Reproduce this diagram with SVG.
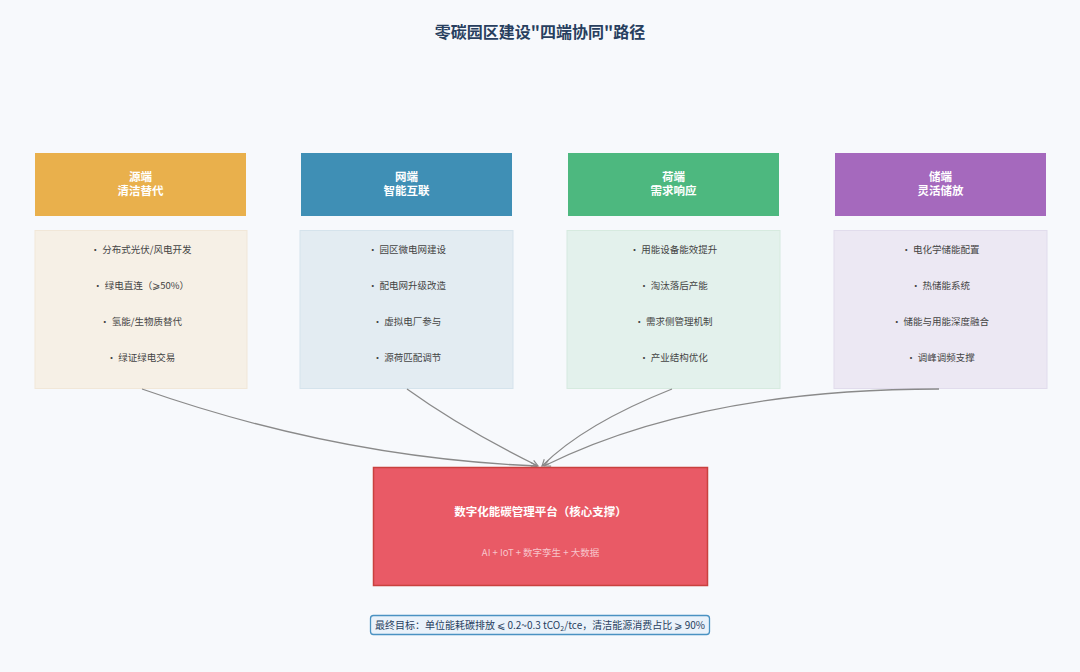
<svg xmlns="http://www.w3.org/2000/svg" width="1080" height="672" viewBox="0 0 1080 672">
<defs>
<style>
.t{font-family:"Noto Sans CJK SC","Noto Sans",sans-serif;}
.title{font-size:16px;font-weight:700;fill:#283f5f;text-anchor:middle;}
.hd{font-size:11.5px;font-weight:700;fill:#ffffff;text-anchor:middle;}
.it{font-size:9.5px;fill:#444;text-anchor:middle;}
.pt{font-size:11.5px;font-weight:700;fill:#ffffff;text-anchor:middle;}
.ps{font-size:9.5px;fill:#f7c5cb;text-anchor:middle;}
.ft{font-size:10px;fill:#283f5f;text-anchor:middle;}
.conn{fill:none;stroke:#8a8a8a;stroke-width:1.3;}
</style>
<marker id="arr" viewBox="0 0 10 10" refX="9" refY="5" markerWidth="8" markerHeight="8" orient="auto" markerUnits="userSpaceOnUse">
<path d="M1,1 L9,5 L1,9" fill="none" stroke="#8a8a8a" stroke-width="1.5"/>
</marker>
</defs>
<rect width="1080" height="672" fill="#f7f9fc"/>
<text class="t title" x="540" y="38">零碳园区建设"四端协同"路径</text>

<g id="node-source">
<rect x="35" y="153" width="211" height="63" fill="#e9b04c"/>
<text class="t hd" x="140.5" y="181">源端</text>
<text class="t hd" x="140.5" y="195">清洁替代</text>
<rect x="35" y="230.5" width="212" height="158" fill="#f6f0e6" stroke="#f1e7d8" stroke-width="1"/>
<text class="t it" x="141" y="253">· 分布式光伏/风电开发</text>
<text class="t it" x="141" y="289">· 绿电直连（⩾50%）</text>
<text class="t it" x="141" y="325">· 氢能/生物质替代</text>
<text class="t it" x="141" y="361">· 绿证绿电交易</text>
</g>

<g id="node-grid">
<rect x="301" y="153" width="211" height="63" fill="#3f8fb5"/>
<text class="t hd" x="406.5" y="181">网端</text>
<text class="t hd" x="406.5" y="195">智能互联</text>
<rect x="300" y="230.5" width="213" height="158" fill="#e3ecf2" stroke="#d5e3ec" stroke-width="1"/>
<text class="t it" x="407" y="253">· 园区微电网建设</text>
<text class="t it" x="407" y="289">· 配电网升级改造</text>
<text class="t it" x="407" y="325">· 虚拟电厂参与</text>
<text class="t it" x="407" y="361">· 源荷匹配调节</text>
</g>

<g id="node-load">
<rect x="568" y="153" width="211" height="63" fill="#4db87f"/>
<text class="t hd" x="673.5" y="181">荷端</text>
<text class="t hd" x="673.5" y="195">需求响应</text>
<rect x="567" y="230.5" width="213" height="158" fill="#e3f1ec" stroke="#d6eadf" stroke-width="1"/>
<text class="t it" x="673.5" y="253">· 用能设备能效提升</text>
<text class="t it" x="673.5" y="289">· 淘汰落后产能</text>
<text class="t it" x="673.5" y="325">· 需求侧管理机制</text>
<text class="t it" x="673.5" y="361">· 产业结构优化</text>
</g>

<g id="node-storage">
<rect x="835" y="153" width="211" height="63" fill="#a569bd"/>
<text class="t hd" x="940.5" y="181">储端</text>
<text class="t hd" x="940.5" y="195">灵活储放</text>
<rect x="834" y="230.5" width="213" height="158" fill="#ece8f3" stroke="#e1dcec" stroke-width="1"/>
<text class="t it" x="940.5" y="253">· 电化学储能配置</text>
<text class="t it" x="940.5" y="289">· 热储能系统</text>
<text class="t it" x="940.5" y="325">· 储能与用能深度融合</text>
<text class="t it" x="940.5" y="361">· 调峰调频支撑</text>
</g>

<g id="connectors">
<path class="conn" d="M142,389 Q339,458 537,466" marker-end="url(#arr)"/>
<path class="conn" d="M407,389 Q461,428 538,466" marker-end="url(#arr)"/>
<path class="conn" d="M672,389 Q584,424 542,466" marker-end="url(#arr)"/>
<path class="conn" d="M939,389 Q700,389 544,466" marker-end="url(#arr)"/>
</g>

<g id="node-platform">
<rect x="373.5" y="467.5" width="334" height="118" fill="#e95a66" stroke="#c9413f" stroke-width="1.5"/>
<text class="t pt" x="540.5" y="516">数字化能碳管理平台（核心支撑）</text>
<text class="t ps" x="540.5" y="556">AI + IoT + 数字孪生 + 大数据</text>
</g>

<g id="node-goal">
<rect x="370.5" y="615.5" width="339" height="19" rx="3" fill="#eaf2fa" stroke="#4a92c2" stroke-width="1.3"/>
<text class="t ft" x="540" y="629">最终目标：单位能耗碳排放 ⩽ 0.2~0.3 tCO<tspan font-size="7" dy="2">2</tspan><tspan dy="-2">/tce，清洁能源消费占比 ⩾ 90%</tspan></text>
</g>
</svg>
